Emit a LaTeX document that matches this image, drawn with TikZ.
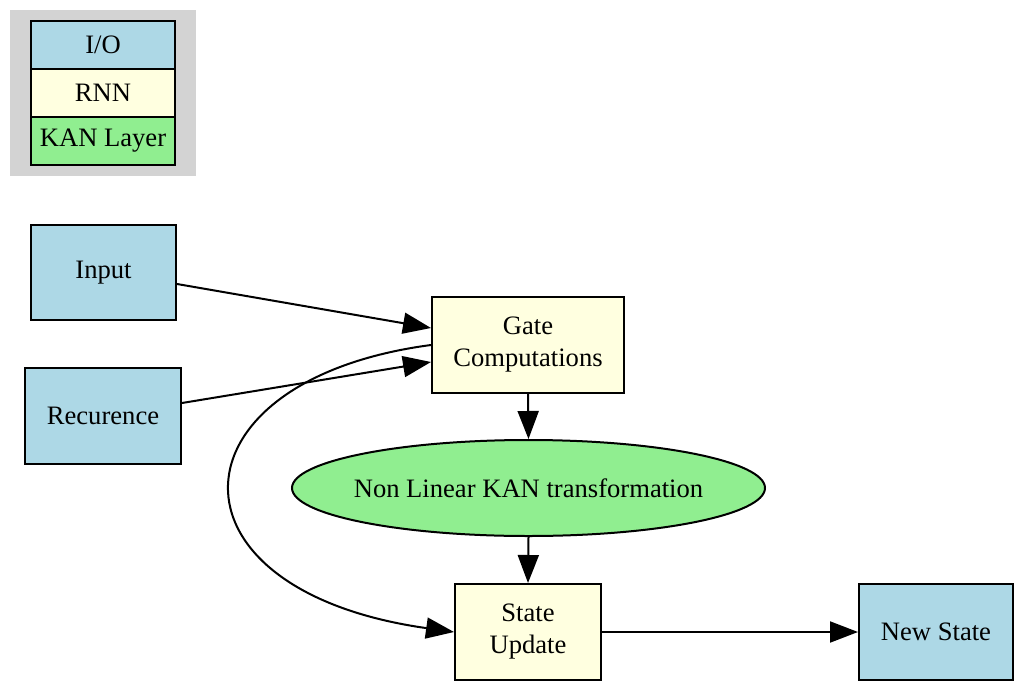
\documentclass[tikz,border=0pt]{standalone}
\usepackage{fontspec}
\setmainfont{Liberation Serif}
\usetikzlibrary{arrows.meta,shapes.geometric}
\definecolor{iocol}{RGB}{173,216,230}
\definecolor{rnncol}{RGB}{255,255,224}
\definecolor{kancol}{RGB}{144,238,144}
\definecolor{legbg}{RGB}{211,211,211}
\tikzset{
  base/.style={draw=black, line width=2pt, inner sep=0pt, align=center,
    font=\fontsize{26.6}{32}\selectfont, text=black},
  iobox/.style={base, rectangle, fill=iocol},
  rnnbox/.style={base, rectangle, fill=rnncol},
  kanell/.style={base, ellipse, fill=kancol},
  conn/.style={line width=2pt, -{Triangle[length=28pt,width=21pt]}},
}
\begin{document}
\begin{tikzpicture}[x=1pt,y=-1pt]
\useasboundingbox (0,0) rectangle (1024,690);
\fill[white] (0,0) rectangle (1024,690);
% legend
\node[fill=legbg, minimum width=186pt, minimum height=166pt, inner sep=0pt] (legend) at (103,93) {};
\node[iobox, minimum width=144pt, minimum height=48pt] (lio) at (103,45) {I/O};
\node[rnnbox, minimum width=144pt, minimum height=48pt] (lrnn) at (103,93) {RNN};
\node[base, rectangle, fill=kancol, minimum width=144pt, minimum height=48pt] (lkan) at (103,141) {KAN Layer};
% nodes
\node[iobox, minimum width=145pt, minimum height=95pt] (in) at (103.5,272.5) {Input};
\node[iobox, minimum width=156pt, minimum height=96pt] (rec) at (103,416) {Recurence};
\node[rnnbox, minimum width=192pt, minimum height=96pt] (gate) at (528,345) {Gate\\Computations};
\node[kanell, minimum width=473pt, minimum height=96pt] (kan) at (528.5,488) {\makebox[0pt]{Non Linear KAN transformation}};
\node[rnnbox, minimum width=146pt, minimum height=96pt] (state) at (528,632) {State\\Update};
\node[iobox, minimum width=154pt, minimum height=96pt] (new) at (936,632) {New State};
% connectors
\draw[conn] ([yshift=-11.5pt]in.east) -- ([yshift=17pt]gate.west);
\draw[conn] ([yshift=13pt]rec.east) -- ([yshift=-17pt]gate.west);
\draw[conn] (gate.west) .. controls (166,380) and (156,590) .. (state.west);
\draw[conn] (gate.south) -- (kan.north);
\draw[conn] (kan.south) -- (state.north);
\draw[conn] (state.east) -- (new.west);
\end{tikzpicture}
\end{document}
